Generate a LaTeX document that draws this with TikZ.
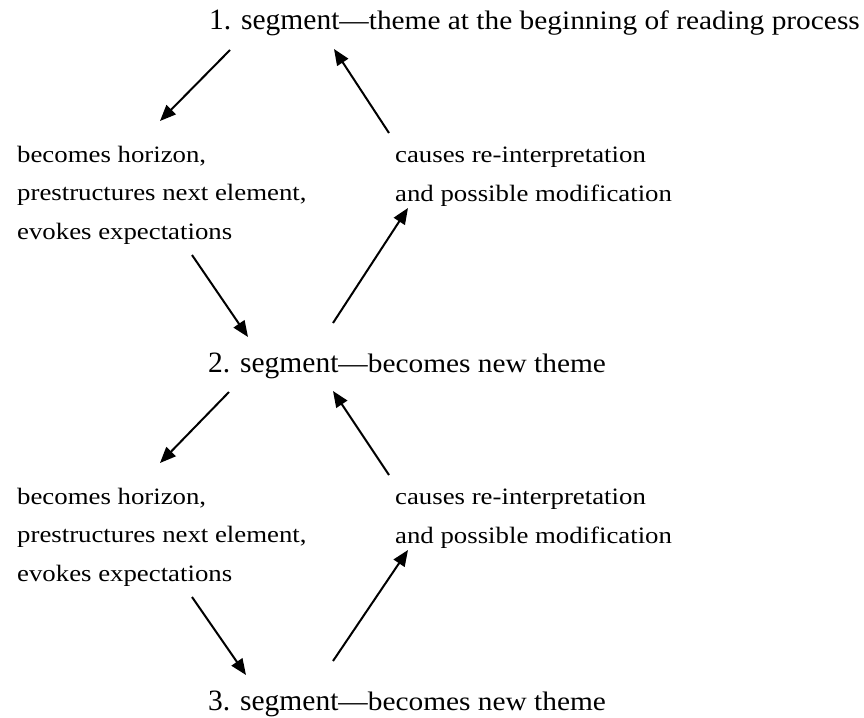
\documentclass[tikz,border=0pt]{standalone}
\usepackage{fontspec}
\setmainfont{Liberation Serif}
\newfontfamily\restfont[Ligatures=TeX, FakeStretch=1.10]{Liberation Serif}
\newfontfamily\notefont[Ligatures=TeX, FakeStretch=1.14]{Liberation Serif}
\usetikzlibrary{arrows.meta, positioning, calc}
\tikzset{
  segtext/.style={anchor=base west, inner sep=0pt, font=\fontsize{29.5}{32}\selectfont},
  notetext/.style={anchor=base west, inner sep=0pt, align=left, font=\notefont\fontsize{23.5}{38.5}\selectfont},
  flowarr/.style={-{Triangle[length=16pt, width=13pt]}, line width=2pt, black},
}
\newcommand{\resttext}[1]{{\restfont\fontsize{26.7}{30}\selectfont ---#1}}
\begin{document}
\begin{tikzpicture}[x=1pt, y=-1pt]
    \useasboundingbox (0,0) rectangle (864,717);
    % segments
    \node[segtext] (seg1) at (209,30) {1. segment\resttext{theme at the beginning of reading process}};
    \node[segtext] (seg2) at (208,372) {2. segment\resttext{becomes new theme}};
    \node[segtext] (seg3) at (208,710) {3. segment\resttext{becomes new theme}};
    % notes between them (anchored at their last line)
    \node[notetext] (hor1) at (17,239) {becomes horizon,\\prestructures next element,\\evokes expectations};
    \node[notetext] (rei1) at (395,201) {causes re-interpretation\\and possible modification};
    \node[notetext] (hor2) at (17,581) {becomes horizon,\\prestructures next element,\\evokes expectations};
    \node[notetext] (rei2) at (395,543) {causes re-interpretation\\and possible modification};
    % arrows
    \draw[flowarr] ([shift={(21,20)}]seg1.base west) -- ([shift={(143,-118)}]hor1.base west);
    \draw[flowarr] ([shift={(-6,-68)}]rei1.base west) -- ([shift={(125,19)}]seg1.base west);
    \draw[flowarr] ([shift={(175,16)}]hor1.base west) -- ([shift={(40,-35)}]seg2.base west);
    \draw[flowarr] ([shift={(125,-49)}]seg2.base west) -- ([shift={(13,7)}]rei1.base west);
    \draw[flowarr] ([shift={(21,20)}]seg2.base west) -- ([shift={(143,-118)}]hor2.base west);
    \draw[flowarr] ([shift={(-6,-68)}]rei2.base west) -- ([shift={(125,19)}]seg2.base west);
    \draw[flowarr] ([shift={(175,16)}]hor2.base west) -- ([shift={(38,-35)}]seg3.base west);
    \draw[flowarr] ([shift={(125,-49)}]seg3.base west) -- ([shift={(13,7)}]rei2.base west);
\end{tikzpicture}
\end{document}
